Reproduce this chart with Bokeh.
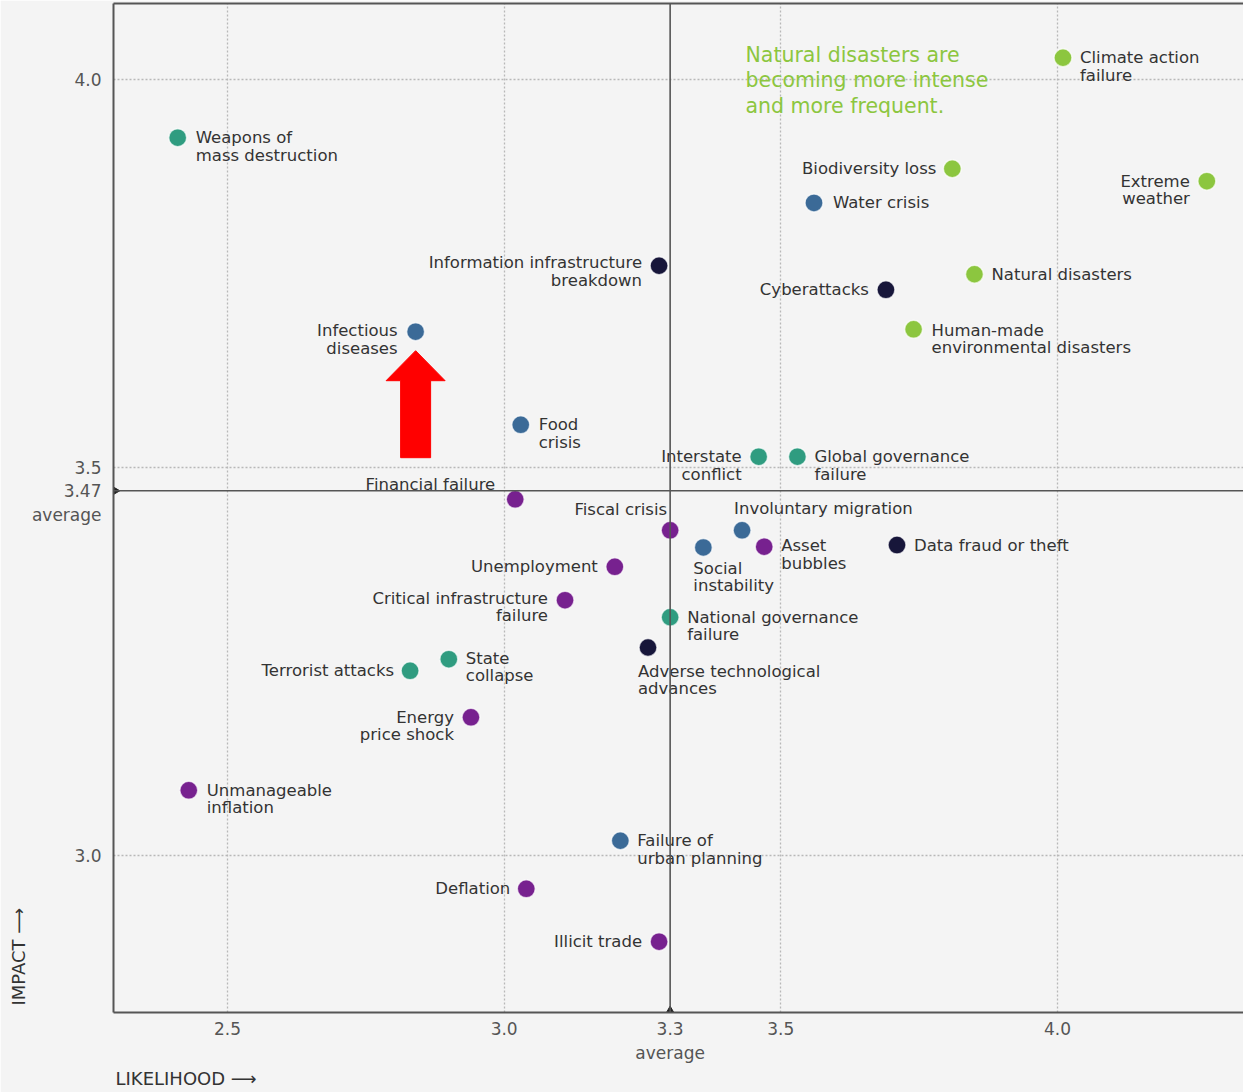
import math
from bokeh.plotting import figure
from bokeh.models import (ColumnDataSource, Span, Label, LinearAxis, FixedTicker, Range1d, Title)
from bokeh.core.properties import value
from bokeh.embed import file_html
from bokeh.resources import INLINE

# ---------------- data ----------------
risks = [
    "Weapons of\nmass destruction", "Climate action\nfailure", "Biodiversity loss",
    "Extreme\nweather", "Water crisis", "Information infrastructure\nbreakdown",
    "Natural disasters", "Cyberattacks", "Human-made\nenvironmental disasters",
    "Infectious\ndiseases", "Food\ncrisis", "Interstate\nconflict",
    "Global governance\nfailure", "Financial failure", "Fiscal crisis",
    "Involuntary migration", "Social\ninstability", "Asset\nbubbles",
    "Data fraud or theft", "Unemployment", "Critical infrastructure\nfailure",
    "National governance\nfailure", "Adverse technological\nadvances", "State\ncollapse",
    "Terrorist attacks", "Energy\nprice shock", "Unmanageable\ninflation",
    "Failure of\nurban planning", "Deflation", "Illicit trade",
]
likelihood = [2.41, 4.01, 3.81, 4.27, 3.56, 3.28, 3.85, 3.69, 3.74, 2.84,
              3.03, 3.46, 3.53, 3.02, 3.30, 3.43, 3.36, 3.47, 3.71, 3.20,
              3.11, 3.30, 3.26, 2.90, 2.83, 2.94, 2.43, 3.21, 3.04, 3.28]
impact = [3.925, 4.028, 3.885, 3.869, 3.841, 3.760, 3.749, 3.729, 3.678, 3.675,
          3.555, 3.514, 3.514, 3.459, 3.419, 3.419, 3.397, 3.398, 3.400, 3.372,
          3.329, 3.307, 3.268, 3.253, 3.238, 3.178, 3.084, 3.019, 2.957, 2.889]
category = ["Geopolitical", "Environmental", "Environmental", "Environmental", "Societal",
            "Technological", "Environmental", "Technological", "Environmental", "Societal",
            "Societal", "Geopolitical", "Geopolitical", "Economic", "Economic",
            "Societal", "Societal", "Economic", "Technological", "Economic",
            "Economic", "Geopolitical", "Technological", "Geopolitical", "Geopolitical",
            "Economic", "Economic", "Societal", "Economic", "Economic"]

avg_likelihood = 3.3
avg_impact = 3.47
x_ticks = [2.5, 3.0, 3.5, 4.0]
y_ticks = [3.0, 3.5, 4.0]
x_axis_title = "LIKELIHOOD  \u27f6"
y_axis_title = "IMPACT  \u27f6"
avg_word = "average"
note_text = "Natural disasters are\nbecoming more intense\nand more frequent."
highlighted = "Infectious\ndiseases"

# ---------------- styles / layout ----------------
cat_colors = {
    "Geopolitical": "#2f9c80",
    "Environmental": "#8cc63f",
    "Societal": "#3b6a97",
    "Technological": "#17163a",
    "Economic": "#77218f",
}
# label placement: (align, dx px, dy px of first line centre; + = down)
label_pos = [
    ("left", 18, 0), ("left", 17, 0), ("right", -16, 0), ("right", -17, 0),
    ("left", 19, 0), ("right", -17, -3), ("left", 17, 0), ("right", -17, 0),
    ("left", 18, 1), ("right", -18, -1), ("left", 18, 0), ("right", -17, 0),
    ("left", 17, 0), ("right", -20, -15), ("right", -3, -21), ("left", -8, -22),
    ("left", -10, 21), ("left", 17, -1), ("left", 17, 0), ("right", -17, 0),
    ("right", -17, -2), ("left", 17, 0), ("left", -10, 24), ("left", 17, -1),
    ("right", -16, 0), ("right", -17, 0), ("left", 18, 0), ("left", 17, 0),
    ("right", -16, 0), ("right", -17, 0),
]

FONT = "DejaVu Sans"
EM = 1.164          # DejaVu ascent+descent per em, used for line spacing
LABEL_SIZE = 16.5
LINE_H = 17.5
BG = "#f4f4f4"
AX = "#555555"

W, H = 1243, 1092
BL, BT, BB = 113, 3, 80
PX_X = 553.3   # px per unit x
PX_Y = 776.0   # px per unit y
x_start = 2.5 - (227 - BL) / PX_X
x_end = x_start + (W - BL) / PX_X
y_end = 4.0 + (79 - BT) / PX_Y
y_start = y_end - (H - BB - BT) / PX_Y


def px2x(px):
    return x_start + (px - BL) / PX_X


def px2y(py):
    return y_end - (py - BT) / PX_Y


p = figure(width=W, height=H, output_backend="svg", toolbar_location=None,
           x_range=Range1d(x_start, x_end), y_range=Range1d(y_start, y_end),
           min_border_left=BL, min_border_right=0, min_border_top=BT, min_border_bottom=BB,
           background_fill_color=BG, border_fill_color=BG)
p.outline_line_color = None

x_axis_ticks = sorted(x_ticks + [avg_likelihood])
y_axis_ticks = sorted(y_ticks + [avg_impact])
for ax in (p.xaxis[0], p.yaxis[0]):
    ax.major_tick_line_color = None
    ax.minor_tick_line_color = None
    ax.axis_line_color = AX
    ax.axis_line_width = 2
    ax.major_label_text_font = FONT
    ax.major_label_text_font_size = "17px"
    ax.major_label_text_color = "#555555"
p.xaxis.ticker = FixedTicker(ticks=x_axis_ticks)
p.yaxis.ticker = FixedTicker(ticks=y_axis_ticks)
p.xaxis.major_label_overrides = {t: (f"{t:.1f}\n{avg_word}" if t == avg_likelihood else f"{t:.1f}")
                                 for t in x_axis_ticks}
p.yaxis.major_label_overrides = {t: (f"\u00a0\n{t:.2f}\n{avg_word}" if t == avg_impact else f"{t:.1f}")
                                 for t in y_axis_ticks}
p.xaxis.major_label_standoff = 0
p.yaxis.major_label_standoff = 6

top_axis = LinearAxis(ticker=FixedTicker(ticks=[]), axis_line_color=AX, axis_line_width=2,
                      major_tick_line_color=None, minor_tick_line_color=None,
                      major_label_text_font_size="0px")
p.add_layout(top_axis, "above")

p.add_layout(Title(text=x_axis_title, align="left", offset=2, standoff=0,
                   text_font=FONT, text_font_size="18px", text_font_style="normal",
                   text_color="#333333"), "below")
p.add_layout(Title(text=y_axis_title, align="left", offset=7, standoff=0,
                   text_font=FONT, text_font_size="18px", text_font_style="normal",
                   text_color="#333333"), "left")

p.xgrid.ticker = FixedTicker(ticks=x_ticks)
p.ygrid.ticker = FixedTicker(ticks=y_ticks)
for g in (p.xgrid[0], p.ygrid[0]):
    g.grid_line_color = "#b8b8b8"
    g.grid_line_dash = "2 2"
    g.grid_line_width = 1.3

p.add_layout(Span(location=avg_likelihood, dimension="height", line_color=AX, line_width=1.6))
p.add_layout(Span(location=avg_impact, dimension="width", line_color=AX, line_width=1.6))

# small markers where the averages meet the axes
p.scatter([avg_likelihood], [y_start], marker="triangle", size=11, color="#222222")
p.scatter([x_start], [avg_impact], marker="triangle", angle=-math.pi / 2, size=11, color="#222222")

# points
src = ColumnDataSource(dict(x=likelihood, y=impact, risk=risks,
                            color=[cat_colors[c] for c in category]))
p.scatter("x", "y", source=src, size=18, fill_color="color", line_color="white",
          line_width=1.5, line_alpha=0.7)

# labels
for side in ("left", "right"):
    xs, ys, ts, xo, yo = [], [], [], [], []
    for x, y, t, (al, dx, dy) in zip(likelihood, impact, risks, label_pos):
        if al != side:
            continue
        n = t.count("\n") + 1
        xs.append(x); ys.append(y); ts.append(t)
        xo.append(dx); yo.append(dy + (n - 1) * LINE_H / 2)
    s = ColumnDataSource(dict(x=xs, y=ys, text=ts, xo=xo, yo=yo))
    p.text("x", "y", text="text", source=s, x_offset="xo", y_offset="yo",
           text_align=side, text_baseline="middle", text_font=value(FONT),
           text_font_size=f"{LABEL_SIZE}px", text_color="#333333",
           text_line_height=LINE_H / (LABEL_SIZE * EM))

# red highlight arrow under the highlighted risk
hi = risks.index(highlighted)
hx, hy = likelihood[hi], impact[hi]
dxu = 1 / PX_X
dyu = 1 / PX_Y
arrow_x = [hx, hx + 29.5 * dxu, hx + 15 * dxu, hx + 15 * dxu, hx - 15 * dxu, hx - 15 * dxu, hx - 29.5 * dxu]
arrow_y = [hy - 19 * dyu, hy - 49 * dyu, hy - 49 * dyu, hy - 126 * dyu, hy - 126 * dyu, hy - 49 * dyu, hy - 49 * dyu]
p.patch(arrow_x, arrow_y, fill_color="#ff0000", line_color="#ff0000")

# annotation note
NOTE_SIZE = 20.5
p.add_layout(Label(x=px2x(745), y=px2y(42), text=note_text, text_font=FONT,
                   text_font_size=f"{NOTE_SIZE}px", text_color="#8cc63f", text_baseline="top",
                   text_line_height=25.5 / (NOTE_SIZE * EM)))

open("out.html", "w").write(file_html(p, INLINE))
